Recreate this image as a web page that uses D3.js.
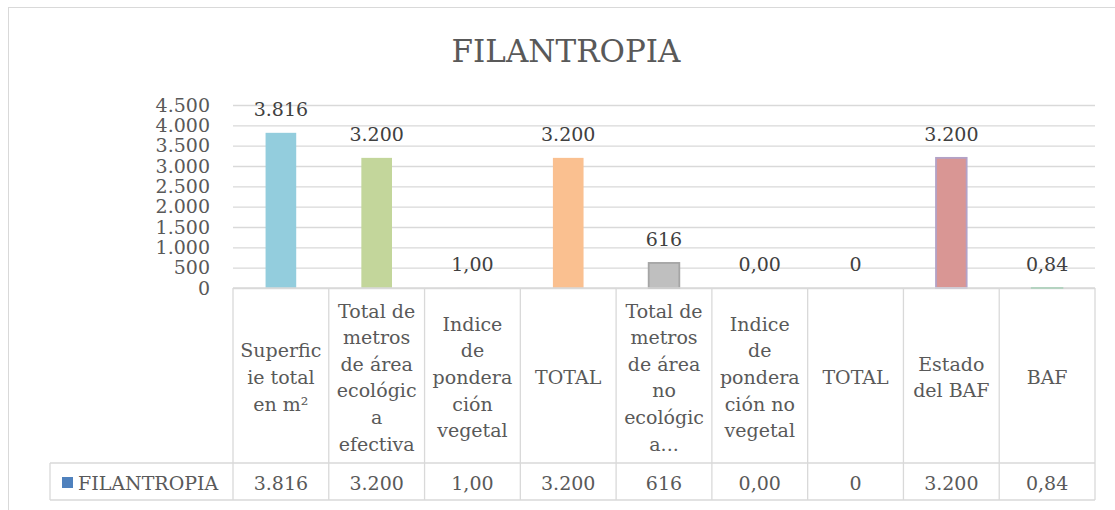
<!DOCTYPE html>
<html>
<head>
<meta charset="utf-8">
<script src="https://cdn.jsdelivr.net/npm/d3@7"></script>
<style>
  body { margin:0; background:#fff; }
  #canvas { width:1115px; height:510px; }
  text { font-family:"DejaVu Serif", serif; }
</style>
</head>
<body>
<div id="canvas" class="canvas"></div>
<script>
// data
var seriesName = 'FILANTROPIA';
var categories = [
  ['Superfic','ie total','en m²'],
  ['Total de','metros','de área','ecológic','a','efectiva'],
  ['Indice','de','pondera','ción','vegetal'],
  ['TOTAL'],
  ['Total de','metros','de área','no','ecológic','a...'],
  ['Indice','de','pondera','ción no','vegetal'],
  ['TOTAL'],
  ['Estado','del BAF'],
  ['BAF']
];
var values = [3816, 3200, 1, 3200, 616, 0, 0, 3200, 0.84];
var valueLabels = ['3.816','3.200','1,00','3.200','616','0,00','0','3.200','0,84'];
var yTicks = [0,500,1000,1500,2000,2500,3000,3500,4000,4500];
var yTickLabels = ['0','500','1.000','1.500','2.000','2.500','3.000','3.500','4.000','4.500'];
var barFill = ['#93CDDD','#C3D69B','#B7A4CC','#FAC090','#BFBFBF','#95B3D7','#F79646','#D99694','#A9E2BF'];
var barStroke = ['none','none','none','none','#A5A5A5','none','none','#B3A2C7','#3DBE72'];

var W = 1115, H = 510;
var svg = d3.select('.canvas').append('svg')
    .attr('width', W).attr('height', H);

// chart frame
svg.append('rect')
    .attr('x', 8.5).attr('y', 7.5)
    .attr('width', 1200).attr('height', 600)
    .attr('fill', '#fff').attr('stroke', '#D9D9D9');

// title
svg.append('text')
    .attr('x', 566).attr('y', 62)
    .attr('text-anchor', 'middle')
    .style('font-size', '31px')
    .style('fill', '#595959')
    .text(seriesName);

var plotL = 233, plotR = 1095, plotT = 105, plotB = 288;

var scaleX = d3.scaleBand()
    .domain(d3.range(values.length))
    .range([plotL, plotR]);

var scaleY = d3.scaleLinear()
    .domain([0, 4500])
    .range([plotB, plotT]);

// gridlines
var grid = d3.axisLeft(scaleY)
    .tickValues(yTicks)
    .tickSize(-(plotR - plotL))
    .tickFormat('');
var gridNode = svg.append('g').attr('transform', 'translate(' + plotL + ',0)');
grid(gridNode);
gridNode.select('.domain').remove();
gridNode.selectAll('line').attr('stroke', '#D9D9D9').attr('stroke-width', 1.3);

// y axis labels
var axisY = d3.axisLeft(scaleY)
    .tickValues(yTicks)
    .tickSize(0)
    .tickPadding(23)
    .tickFormat(function(d, i){ return yTickLabels[i]; });
var axisNode = svg.append('g').attr('transform', 'translate(' + plotL + ',0)');
axisY(axisNode);
axisNode.select('.domain').remove();
axisNode.selectAll('text')
    .attr('font-family', null)
    .style('font-size', '19px')
    .style('fill', '#595959');

// bars
var bw = scaleX.bandwidth() * 0.32;
values.forEach(function(v, i){
  var cx = scaleX(i) + scaleX.bandwidth() / 2;
  var h = scaleY(0) - scaleY(v);
  if (v > 0) {
    svg.append('rect')
        .attr('x', cx - bw / 2)
        .attr('y', scaleY(v))
        .attr('width', bw)
        .attr('height', h)
        .attr('fill', barFill[i])
        .attr('stroke', barStroke[i])
        .attr('stroke-width', barStroke[i] == 'none' ? 0 : 1.8);
  }
  svg.append('text')
      .attr('x', cx)
      .attr('y', scaleY(v) - 17)
      .attr('text-anchor', 'middle')
      .style('font-size', '19px')
      .style('fill', '#404040')
      .text(valueLabels[i]);
});

// data table
var rowTop = plotB, rowMid = 463, rowBot = 500, legendL = 50;
var table = svg.append('g')
    .attr('stroke', '#D9D9D9').attr('stroke-width', 1.3);
table.append('line').attr('x1', plotL).attr('x2', plotR).attr('y1', rowTop).attr('y2', rowTop);
table.append('line').attr('x1', legendL).attr('x2', plotR).attr('y1', rowMid).attr('y2', rowMid);
table.append('line').attr('x1', legendL).attr('x2', plotR).attr('y1', rowBot).attr('y2', rowBot);
table.append('line').attr('x1', legendL).attr('x2', legendL).attr('y1', rowMid).attr('y2', rowBot);
d3.range(values.length + 1).forEach(function(i){
  var x = i < values.length ? scaleX(i) : plotR;
  table.append('line').attr('x1', x).attr('x2', x).attr('y1', rowTop).attr('y2', rowBot);
});

var lineH = 26.6, headMid = 377;
categories.forEach(function(lines, i){
  var cx = scaleX(i) + scaleX.bandwidth() / 2;
  var t = svg.append('text')
      .attr('text-anchor', 'middle')
      .style('font-size', '19px')
      .style('fill', '#595959');
  var y0 = headMid - (lines.length - 1) * lineH / 2;
  lines.forEach(function(s, j){
    t.append('tspan')
        .attr('x', cx)
        .attr('y', y0 + j * lineH + 7)
        .text(s);
  });
  svg.append('text')
      .attr('x', cx).attr('y', 490)
      .attr('text-anchor', 'middle')
      .style('font-size', '19px')
      .style('fill', '#595959')
      .text(valueLabels[i]);
});

// legend key in the table
svg.append('rect')
    .attr('x', 62).attr('y', 477)
    .attr('width', 11).attr('height', 11)
    .attr('fill', '#4F81BD');
svg.append('text')
    .attr('x', 78).attr('y', 490)
    .style('font-size', '19px')
    .style('fill', '#595959')
    .text(seriesName);
</script>
</body>
</html>
